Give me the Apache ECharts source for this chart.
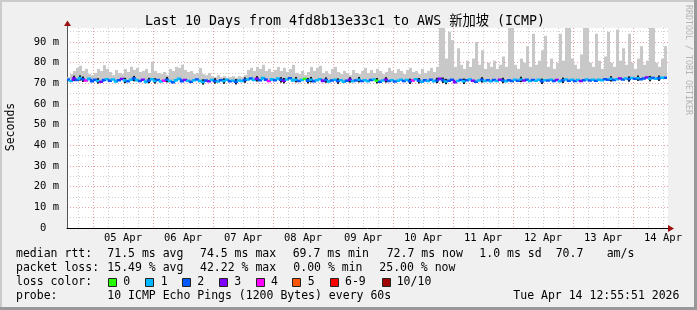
<!DOCTYPE html>
<html><head><meta charset="utf-8">
<script src="https://cdn.jsdelivr.net/npm/echarts@6/dist/echarts.min.js"></script>
<style>html,body{margin:0;padding:0;background:#f0f0f0;}#c{width:697px;height:310px;}</style>
</head><body><div id="c"></div><script>
// ---------------- data ----------------
const titleText = 'Last 10 Days from 4fd8b13e33c1 to AWS 新加坡 (ICMP)';
const dayLabels = ['05 Apr','06 Apr','07 Apr','08 Apr','09 Apr','10 Apr','11 Apr','12 Apr','13 Apr','14 Apr'];
const yTickValues = [0,10,20,30,40,50,60,70,80,90];
// time in hours relative to 05 Apr 00:00; one sample per step
const startHour = -10.4;
const stepHours = 1.2;
const smokeMax = [
73.0,74.5,76.0,77.5,78.5,76.0,77.0,74.5,74.0,75.0,
77.0,76.0,78.8,77.0,75.5,74.0,76.5,75.0,74.5,77.0,
75.5,78.0,76.5,77.5,75.5,76.0,77.0,75.0,80.5,76.0,
75.0,74.5,75.5,74.0,77.0,76.0,78.0,77.5,79.0,76.5,
75.5,76.0,74.5,75.0,77.5,74.5,74.0,75.0,73.5,73.0,
74.0,73.0,73.5,72.8,73.0,73.5,72.8,73.5,73.0,74.0,
76.5,77.5,76.0,78.0,77.0,79.0,76.0,77.0,75.5,76.5,
78.0,76.0,77.5,75.5,77.0,79.0,75.0,74.5,76.0,74.0,
75.5,78.0,76.0,77.5,78.5,75.0,76.0,74.5,77.0,78.0,
75.5,74.5,76.0,75.0,74.0,76.5,75.0,74.5,76.0,77.5,
75.0,76.5,75.0,77.0,76.0,74.5,75.5,77.5,76.0,75.0,
77.0,76.0,74.5,76.5,77.5,75.5,76.0,74.5,77.0,75.0,
76.0,77.5,75.5,78.0,97,97,82,95,91,78,
87,79,77,81,78,82,90,79,86,77,
80,78,81,77,79,83,78,97,97,79,
77,82,80,88,78,94,79,81,86,93,
78,82,77,80,94,81,97,97,82,79,
77,84,97,97,80,78,94,81,77,83,
95,80,78,96,81,87,79,94,80,77,
82,88,79,81,97,97,80,78,82,88
];
const median = [
71.8,71.2,72.4,71.6,72.6,72.0,71.4,72.2,71.0,71.8,71.2,70.8,71.6,72.0,71.3,71.9,70.9,71.5,72.1,71.4,
71.0,71.7,72.3,71.5,71.1,71.8,70.7,71.4,72.0,71.2,71.6,70.9,71.3,71.8,71.1,70.6,71.5,72.2,71.0,71.6,
71.3,70.8,71.5,71.9,71.2,70.7,71.4,71.0,71.6,71.2,70.9,71.5,71.1,71.7,71.0,71.3,70.8,71.4,71.1,71.6,
71.9,72.4,71.6,72.2,71.5,72.6,71.8,71.2,72.0,71.5,72.3,71.7,71.3,71.9,72.5,71.4,71.8,71.1,71.6,72.1,
71.3,71.8,71.0,71.5,72.0,71.2,71.6,70.9,71.4,71.8,71.1,71.5,70.8,71.3,71.7,71.0,71.4,71.8,71.2,71.5,
71.0,71.6,71.9,71.3,70.8,71.4,71.7,71.1,71.5,70.9,71.3,71.8,71.2,71.6,71.0,71.4,72.0,71.3,70.8,71.5,
71.2,71.7,71.0,71.4,72.2,71.5,70.9,71.3,71.8,70.6,71.2,71.6,71.0,71.5,71.9,71.3,70.8,71.4,71.7,71.1,
71.5,71.0,71.6,71.2,71.8,71.4,71.0,71.5,71.2,71.7,71.3,71.9,71.4,71.8,71.1,71.6,71.3,71.7,71.0,71.5,
71.4,71.8,71.2,71.6,71.0,71.5,71.9,71.3,71.7,71.2,71.6,71.1,71.5,71.9,71.4,71.8,71.3,71.7,71.5,72.0,
71.8,72.2,71.6,72.0,72.4,71.9,72.3,72.1,72.6,72.2,72.5,72.0,72.4,72.8,72.3,72.6,72.2,72.5,72.7,72.7
];
const lossCount = [
2,1,3,2,1,2,4,1,2,2,1,3,2,1,2,1,1,2,3,1,
2,1,2,1,2,3,1,2,1,1,2,1,4,2,1,2,1,1,2,3,
1,2,1,2,1,1,2,3,1,2,1,2,1,1,2,1,2,1,1,2,
1,2,1,3,2,1,2,4,1,2,1,2,3,1,2,1,1,2,1,0,
2,1,2,1,1,3,2,1,2,1,2,1,1,2,3,1,2,1,2,1,
1,2,1,0,2,1,3,2,1,2,1,1,2,1,2,4,1,2,1,2,
1,2,1,2,3,2,1,2,2,3,1,2,1,2,1,3,2,1,2,1,
2,1,2,1,3,2,1,2,2,1,2,1,3,2,1,2,1,1,2,1,
2,1,2,3,1,2,1,2,1,2,1,3,2,1,2,1,2,1,1,2,
2,1,2,1,3,2,1,2,1,2,1,2,2,3,1,2,1,2,1,2
];
// steps where the dense (dark) smoke core around the median is visible
const darkSteps = [2,4,5,10,19,22,27,29,33,45,49,52,56,59,63,71,72,76,80,81,86,90,94,97,103,106,114,117,123,125,126,132,138,145,151,158,165,181,187,190,194,197];
const lossLegend = ['0','1','2','3','4','5','6-9','10/10'];
const lossColors = ['#26ff00','#00b8ff','#0059ff','#7e00ff','#ff00ff','#ff5500','#ff0000','#a10000'];
const rttStats = ['71.5 ms avg','74.5 ms max','69.7 ms min','72.7 ms now','1.0 ms sd','70.7','am/s'];
const lossStats = ['15.49 % avg','42.22 % max','0.00 % min','25.00 % now'];
const probeText = '10 ICMP Echo Pings (1200 Bytes) every 60s';
const dateText = 'Tue Apr 14 12:55:51 2026';
const yMax = 96.8;

// ---------------- chart ----------------
const MONO = '"DejaVu Sans Mono", "Noto Sans CJK SC", monospace';
const GRID_MINOR = '#cfcfcf', GRID_MAJOR = '#e6a3a3';
const DARK_HALF = 1.3; // half height of dark smoke core, ms
function lossColor(c){ return lossColors[c <= 5 ? c : (c < 10 ? 6 : 7)]; }

const smokeData = median.map((m,i)=>[startHour + i*stepHours, m, smokeMax[i]]);
const medData = median.map((m,i)=>[startHour + i*stepHours, m, lossCount[i]]);
const darkData = darkSteps.map(i=>[startHour + i*stepHours, median[i]]);

const chart = echarts.init(document.getElementById('c'), null, {renderer:'canvas'});

const graphics = [];
graphics.push({type:'rect', shape:{x:0,y:0,width:697,height:2}, style:{fill:'#cbcbcb'}, z:1});
graphics.push({type:'rect', shape:{x:0,y:0,width:2,height:310}, style:{fill:'#cbcbcb'}, z:1});
graphics.push({type:'rect', shape:{x:0,y:307,width:697,height:3}, style:{fill:'#999999'}, z:1});
graphics.push({type:'rect', shape:{x:694,y:0,width:3,height:310}, style:{fill:'#999999'}, z:1});
graphics.push({type:'text', x:345, y:22, style:{text:titleText, font:'13.3px '+MONO, fill:'#000', align:'center', verticalAlign:'middle'}, z:10});
graphics.push({type:'text', x:11, y:127, rotation:Math.PI/2, style:{text:'Seconds', font:'11.5px '+MONO, fill:'#000', align:'center', verticalAlign:'middle'}, z:10});
graphics.push({type:'text', x:688, y:5, rotation:-Math.PI/2, style:{text:'RRDTOOL / TOBI OETIKER', font:'8.3px '+MONO, fill:'#b4b4b4', align:'left', verticalAlign:'middle'}, z:10});
graphics.push({type:'line', shape:{x1:67.5,y1:29,x2:67.5,y2:25}, style:{stroke:'#555',lineWidth:1}, z:10});
graphics.push({type:'polygon', shape:{points:[[64,26],[71,26],[67.5,20.5]]}, style:{fill:'#9b1010'}, z:10});
graphics.push({type:'line', shape:{x1:667,y1:228.5,x2:670,y2:228.5}, style:{stroke:'#000',lineWidth:1}, z:10});
graphics.push({type:'polygon', shape:{points:[[668,225],[668,232],[674,228.5]]}, style:{fill:'#9b1010'}, z:10});

const LF = '11.5px ' + MONO;
function txt(s, x, y){ graphics.push({type:'text', x:x, y:y, style:{text:s, font:LF, fill:'#000', align:'left', verticalAlign:'middle'}, z:10}); }
txt('median rtt:', 16, 254);
[107.3, 200, 292.7, 386.7, 479.3, 555.7, 606.7].forEach((x,i)=>txt(rttStats[i], x, 254));
txt('packet loss:', 16, 268);
[107.3, 200, 293.3, 379.3].forEach((x,i)=>txt(lossStats[i], x, 268));
txt('loss color:', 16, 282);
const swX = [108.5, 145.5, 182.5, 219.5, 256.5, 292.5, 330.5, 382.5];
const swT = [123.3, 160.7, 197.3, 234.3, 271, 307.7, 345, 396.7];
lossLegend.forEach((s,i)=>{
  graphics.push({type:'rect', shape:{x:swX[i], y:278.5, width:8, height:8}, style:{fill:lossColors[i], stroke:'#222', lineWidth:1}, z:10});
  txt(s, swT[i], 282);
});
txt('probe:', 16, 296);
txt(probeText, 107.3, 296);
txt(dateText, 513.3, 296);

const option = {
  animation:false,
  backgroundColor:'#f0f0f0',
  grid:[
    {left:67, top:28, width:601, height:200, show:true, backgroundColor:'#ffffff', borderWidth:0},
    {left:78, top:28, width:585, height:200, show:false}
  ],
  xAxis:[
    {type:'value', gridIndex:0, min:startHour, max:230, show:true,
     axisLine:{show:true, onZero:false, lineStyle:{color:'#000', width:1}},
     axisTick:{show:false}, axisLabel:{show:false}, splitLine:{show:false}},
    {type:'value', gridIndex:1, min:0, max:234, interval:6, position:'bottom',
     axisLine:{show:false}, axisTick:{show:false},
     axisLabel:{show:true, interval:0, showMinLabel:true, showMaxLabel:true, margin:5,
       fontFamily:MONO, fontSize:10.5, color:'#000',
       formatter:(v)=>{ const k=(v-18)/24; return (Number.isInteger(k) && k>=0 && k<dayLabels.length) ? dayLabels[k] : ''; }},
     splitLine:{show:true, showMinLine:true, showMaxLine:true,
       lineStyle:{color:[GRID_MINOR, GRID_MAJOR, GRID_MINOR, GRID_MINOR], type:[1,2], width:1}}}
  ],
  yAxis:[
    {type:'value', gridIndex:0, min:0, max:yMax, interval:5,
     axisLine:{show:true, onZero:false, lineStyle:{color:'#555', width:1}},
     axisTick:{show:false},
     axisLabel:{show:true, interval:0, showMaxLabel:false, margin:8, fontFamily:MONO, fontSize:10.5, color:'#000',
       formatter:(v)=> yTickValues.indexOf(v) < 0 ? '' : (v === 0 ? '0  ' : v + ' m')},
     splitLine:{show:true, showMinLine:false, showMaxLine:false,
       lineStyle:{color:[GRID_MINOR, GRID_MAJOR], type:[1,2], width:1}}},
    {type:'value', gridIndex:1, min:0, max:1, show:false}
  ],
  graphic: graphics,
  series:[
    {type:'custom', name:'smoke', xAxisIndex:0, yAxisIndex:0, z:2, clip:true, silent:true,
     data: smokeData,
     renderItem:(params, api)=>{
       const t = api.value(0);
       const a = api.coord([t, api.value(2)]);
       const b = api.coord([t + stepHours, api.value(1)]);
       const top = Math.max(a[1], params.coordSys.y);
       return {type:'rect', shape:{x:a[0], y:top, width:b[0]-a[0], height:b[1]-top}, style:{fill:'#c8c8c8'}};
     }},
    {type:'custom', name:'core', xAxisIndex:0, yAxisIndex:0, z:3, silent:true,
     data: darkData,
     renderItem:(params, api)=>{
       const t = api.value(0), m = api.value(1);
       const a = api.coord([t, m + DARK_HALF]);
       const b = api.coord([t + stepHours*0.67, m - DARK_HALF]);
       return {type:'rect', shape:{x:a[0], y:a[1], width:b[0]-a[0], height:b[1]-a[1]}, style:{fill:'#1a1a1a'}};
     }},
    {type:'custom', name:'median', xAxisIndex:0, yAxisIndex:0, z:4, silent:true,
     data: medData,
     renderItem:(params, api)=>{
       const i = params.dataIndex;
       const t = api.value(0), m = api.value(1);
       const pm = i > 0 ? median[i-1] : m;
       const p0 = api.coord([t, pm]), p1 = api.coord([t, m]), p2 = api.coord([t + stepHours, m]);
       return {type:'polyline', shape:{points:[p0,p1,p2]}, style:{stroke:lossColor(api.value(2)), lineWidth:2.5, fill:'none'}};
     }}
  ]
};
chart.setOption(option);
</script></body></html>
